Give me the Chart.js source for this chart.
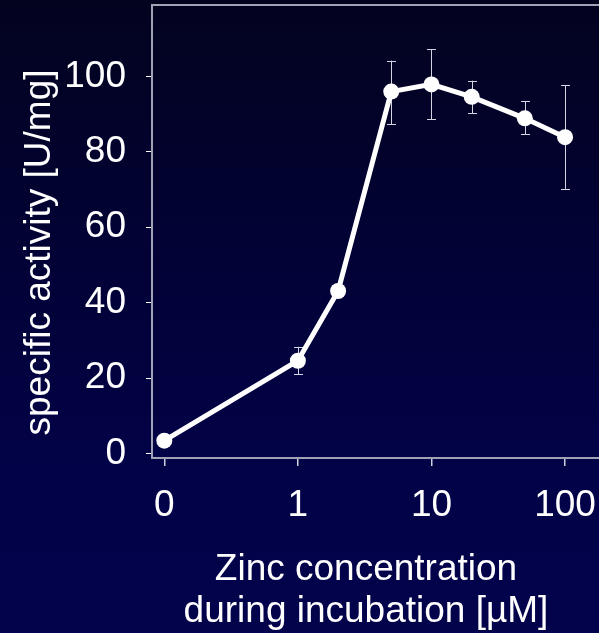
<!DOCTYPE html>
<html><head><meta charset="utf-8">
<script src="https://cdn.jsdelivr.net/npm/chart.js@4.4.0/dist/chart.umd.min.js"></script>
<style>
html,body{margin:0;padding:0;width:599px;height:633px;overflow:hidden;
background:linear-gradient(to bottom,#03031f 0%,#020236 40%,#020248 75%,#03034c 100%);}
canvas{display:block}
</style></head><body>
<canvas id="c" width="599" height="633"></canvas>
<script>
// ---- data ----
const concentrations = [0, 1, 2, 5, 10, 20, 50, 100];          // µM
const activity       = [3.4, 24.6, 43.1, 96.0, 97.9, 94.6, 88.9, 83.9]; // U/mg
const errorHigh      = [null, 28.3, null, 104.2, 107.2, 98.9, 93.5, 97.7];
const errorLow       = [null, 21.0, null, 87.4, 88.6, 90.2, 84.7, 70.2];
const xTickValues    = [0, 1, 10, 100];
const yTickValues    = [0, 20, 40, 60, 80, 100];
const ZERO_POSITION  = 0.1;   // "0" is placed one decade below 1 on the log axis
const xTitle = ['Zinc concentration', 'during incubation [µM]'];
const yTitle = 'specific activity [U/mg]';

const toAxis = c => (c === 0 ? ZERO_POSITION : c);
const points = concentrations.map((c, i) => ({x: toAxis(c), y: activity[i]}));

const FONT = "'Liberation Sans', Arial, sans-serif";
const FONT_SIZE = 37;
const AXIS_COLOR = '#a2a2b6';

const errorBars = {
  id: 'errorBars',
  beforeDatasetsDraw(chart) {
    const {ctx, scales: {x, y}} = chart;
    ctx.save();
    ctx.strokeStyle = '#d4d4e2';
    ctx.lineWidth = 1;
    concentrations.forEach((c, i) => {
      if (errorHigh[i] == null || errorLow[i] == null) return;
      const px = Math.round(x.getPixelForValue(toAxis(c))) + 0.5;
      const top = y.getPixelForValue(errorHigh[i]);
      const bot = y.getPixelForValue(errorLow[i]);
      ctx.beginPath();
      ctx.moveTo(px, top); ctx.lineTo(px, bot);
      ctx.moveTo(px - 4.5, Math.round(top) + 0.5); ctx.lineTo(px + 4.5, Math.round(top) + 0.5);
      ctx.moveTo(px - 4.5, Math.round(bot) + 0.5); ctx.lineTo(px + 4.5, Math.round(bot) + 0.5);
      ctx.stroke();
    });
    ctx.restore();
  }
};

const frameAndTitles = {
  id: 'frameAndTitles',
  afterDraw(chart) {
    const {ctx, chartArea} = chart;
    ctx.save();
    ctx.strokeStyle = AXIS_COLOR;
    ctx.lineWidth = 2;
    ctx.beginPath();
    ctx.moveTo(chartArea.left - 1, chartArea.top);
    ctx.lineTo(chartArea.right, chartArea.top);
    ctx.stroke();

    ctx.fillStyle = '#ffffff';
    ctx.font = FONT_SIZE + 'px ' + FONT;
    ctx.textAlign = 'center';

    // x-axis title, two lines
    ctx.textBaseline = 'alphabetic';
    const cx = chartArea.left + 214;
    xTitle.forEach((line, i) => ctx.fillText(line, cx, chartArea.bottom + 122 + i * 42));

    // y-axis title (sits slightly below the plot's vertical centre in the original)
    ctx.translate(chartArea.left - 112, (chartArea.top + chartArea.bottom) / 2 + 21);
    ctx.rotate(-Math.PI / 2);
    ctx.textBaseline = 'middle';
    ctx.fillText(yTitle, 0, 0);
    ctx.restore();
  }
};

new Chart(document.getElementById('c'), {
  type: 'line',
  data: {
    datasets: [{
      label: yTitle,
      data: points,
      borderColor: '#ffffff',
      borderWidth: 5,
      pointRadius: 8,
      pointBackgroundColor: '#ffffff',
      pointBorderColor: '#ffffff',
      pointBorderWidth: 0,
      tension: 0,
      fill: false
    }]
  },
  options: {
    responsive: false,
    animation: false,
    layout: {autoPadding: false, padding: {top: 5, left: 0, right: 0, bottom: 0}},
    plugins: {legend: {display: false}, tooltip: {enabled: false}},
    scales: {
      x: {
        type: 'logarithmic',
        position: 'bottom',
        min: 0.0809,
        max: 179.5,
        afterBuildTicks: s => { s.ticks = xTickValues.map(v => ({value: toAxis(v)})); },
        afterFit: s => { s.height = 175; s.paddingLeft = 0; s.paddingRight = 0; },
        ticks: {
          color: '#ffffff',
          font: {family: FONT, size: FONT_SIZE},
          padding: 18,
          maxRotation: 0,
          autoSkip: false,
          callback: (v) => {
            const i = xTickValues.findIndex(t => Math.abs(toAxis(t) - v) < 1e-9);
            return i >= 0 ? String(xTickValues[i]) : '';
          }
        },
        grid: {drawOnChartArea: false, drawTicks: true, tickLength: 8, color: '#d0d0de', lineWidth: 1.5},
        border: {display: true, color: AXIS_COLOR, width: 2},
        title: {display: false, text: xTitle}
      },
      y: {
        type: 'linear',
        position: 'left',
        min: -1.19,
        max: 118.96,
        afterBuildTicks: s => { s.ticks = yTickValues.map(v => ({value: v})); },
        afterFit: s => { s.width = 152; s.paddingTop = 0; s.paddingBottom = 0; },
        ticks: {
          color: '#ffffff',
          font: {family: FONT, size: FONT_SIZE},
          padding: 20,
          callback: v => String(v)
        },
        grid: {drawOnChartArea: false, drawTicks: true, tickLength: 6, color: '#ffffff', lineWidth: 1},
        border: {display: true, color: AXIS_COLOR, width: 2},
        title: {display: false, text: yTitle}
      }
    }
  },
  plugins: [errorBars, frameAndTitles]
});
</script>
</body></html>
